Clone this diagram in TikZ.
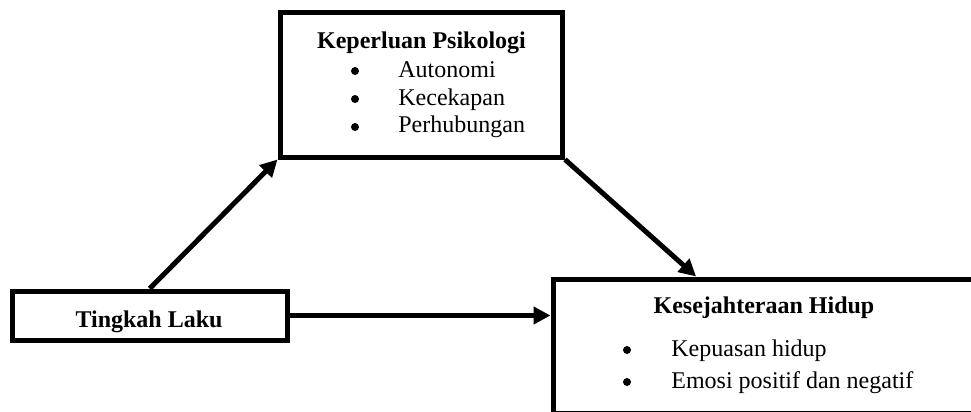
\documentclass[tikz,border=0pt,12pt]{standalone}
\usepackage{fontspec}
\setmainfont{Liberation Serif}
\usetikzlibrary{calc,arrows.meta}

\tikzset{
  box/.style={draw, line width=2.5pt, inner sep=0pt},
  head/.style={font=\bfseries, anchor=base, inner sep=0pt},
  dot/.style={circle, fill, inner sep=0pt, minimum size=4pt},
  item/.style={anchor=base west, inner sep=0pt},
  link/.style={line width=2.5pt, -{Triangle[length=8.5pt,width=8.5pt]}}
}

\begin{document}
\begin{tikzpicture}[x=0.5pt,y=-0.5pt]
\useasboundingbox (0,0) rectangle (971,412);
\clip (0,0) rectangle (971,412);

%boxes
\node[box, minimum width=141.25pt, minimum height=72.25pt] (psiko) at (421.25,84.75) {};
\node[box, minimum width=137.25pt, minimum height=24.5pt] (tingkah) at (149.75,315.5) {};
\node[box, minimum width=211pt, minimum height=67pt] (kesej) at (764,346) {};

%keperluan
\node[head] (psikoT) at (421.5,48) {Keperluan Psikologi};
\foreach \lbl [count=\i] in {Autonomi,Kecekapan,Perhubungan}{
  \node[dot] (psikoB\i) at (355,43+28*\i) {};
  \node[item] (psikoI\i) at (398,49+28*\i) {\lbl};
}

%tingkah laku
\node[head] (tingkahT) at (149,327) {Tingkah Laku};

%kesejahteraan
\node[head] (kesejT) at (764,313) {Kesejahteraan Hidup};
\foreach \lbl [count=\i] in {Kepuasan hidup,Emosi positif dan negatif}{
  \node[dot] (kesejB\i) at (627,318+32*\i) {};
  \node[item] (kesejI\i) at (671,324+32*\i) {\lbl};
}

%arrows
\coordinate (kin) at ($(kesej.north west)!0.341!(kesej.north east)$);
\draw[link] (tingkah.north) -- (psiko.south west);
\draw[link] (psiko.south east) -- (kin);
\draw[link] (tingkah.east) -- (tingkah.east -| kesej.west);

\end{tikzpicture}
\end{document}
